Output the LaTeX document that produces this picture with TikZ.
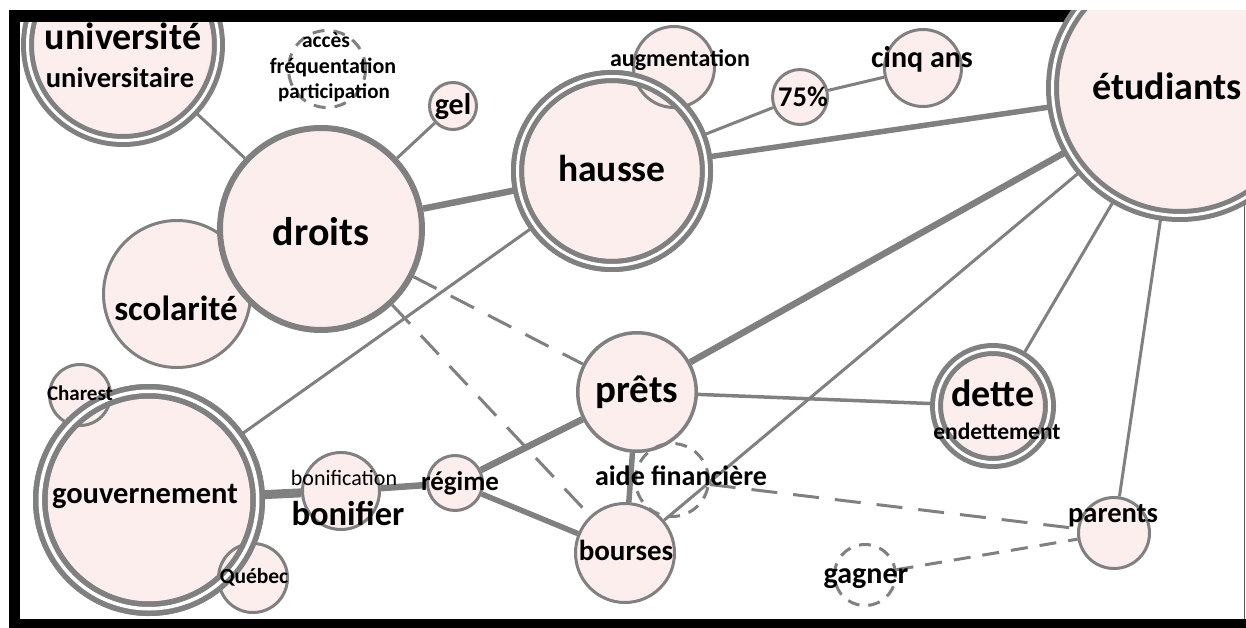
\documentclass[tikz,border=0pt]{standalone}
\usepackage{fontspec}
\setmainfont{Carlito}
\pgfdeclarelayer{background}
\pgfsetlayers{background,main}
\definecolor{ring}{RGB}{128,128,128}
\definecolor{bubble}{RGB}{253,238,238}
\definecolor{edgeline}{RGB}{90,90,90}
\newcommand\fsz[1]{\fontsize{#1}{#1}\selectfont\bfseries}
\newcommand\fszr[1]{\fontsize{#1}{#1}\selectfont}
\begin{document}
\begin{tikzpicture}[x=1pt,y=-1pt,
  bub/.style={circle, draw=ring, fill=bubble, line width=3pt, inner sep=0pt,
              minimum size={2*#1*1pt-3pt}},
  dbub/.style={circle, draw=ring, fill=bubble, line width=5pt, double=white,
               double distance=3pt, inner sep=0pt, minimum size={2*#1*1pt-13pt}},
  ghost/.style={circle, draw=ring, line width=3pt, dash pattern=on 12pt off 9pt,
                inner sep=0pt, minimum size={2*#1*1pt-3pt}},
  dring/.style={draw=ring, line width=5pt, double=white, double distance=3pt},
  lbl/.style={inner sep=0pt, anchor=base, text=black},
  lnA/.style={draw=ring, line width=3pt},
  lnB/.style={draw=ring, line width=3.5pt},
  lnC/.style={draw=ring, line width=5.5pt},
  lnD/.style={draw=ring, line width=6.5pt},
  lnE/.style={draw=ring, line width=9pt},
  dsh/.style={draw=ring, line width=3pt, dash pattern=on 26pt off 16pt},
  dshs/.style={draw=ring, line width=3pt, dash pattern=on 17pt off 12pt},
]
% page background
\begin{pgfonlayer}{background}
  \fill[white] (0,0) rectangle (1246,628);
\end{pgfonlayer}

% bubble partly hidden behind the frame
\node[dbub=102] (univ) at (123,45) {};

% frame: white margin and black bands
\fill[white] (0,0) rectangle (1246,10);
\fill[white] (0,0) rectangle (9,628);
\fill[black] (9,10) rectangle (1246,22);
\fill[black] (9,10) rectangle (20,628);
\fill[black] (9,619) rectangle (1246,628);
\draw[edgeline, line width=1pt] (1244.5,22) -- (1244.5,619);

% bubbles
\node[ghost=40] (acces) at (327,69) {};
\node[bub=25] (gel) at (453,106) {};
\node[dbub=101] (hausse) at (612,171) {};
\node[bub=42] (augm) at (674,67) {};
\draw[dring] (hausse.center) circle[radius=94.5pt];
\node[bub=29] (p75) at (800,97) {};
\node[bub=40] (cinq) at (923,68) {};
\node[dbub=134] (etud) at (1180,88) {};
\fill[white] (1000,0) rectangle (1246,10);
\node[bub=75] (scol) at (177,294) {};
\node[bub=104, line width=6pt, minimum size=202pt] (droits) at (321,229) {};
\node[dbub=116, line width=5.5pt, double distance=3.5pt, minimum size=217.5pt] (gouv) at (149,500) {};
\node[bub=32] (charest) at (80,395) {};
\node[bub=36] (quebec) at (253,578) {};
\draw[dring, line width=5.5pt, double distance=3.5pt] (gouv.center) circle[radius=108.75pt];
\node[bub=40] (bonif) at (341,491) {};
\node[bub=29] (regime) at (455,483) {};
\node[bub=61, line width=3.5pt, minimum size=118.5pt] (prets) at (637,392) {};
\node[bub=51] (bourses) at (625,553) {};
\node[ghost=38] (aide) at (672,480) {};
\node[dbub=63] (dette) at (993,406) {};
\node[bub=37] (parents) at (1114,533) {};
\node[ghost=32] (gagner) at (865,575) {};

% links
\begin{pgfonlayer}{background}
  \draw[lnA] (univ) -- (droits);
  \draw[lnA] (gel) -- (droits);
  \draw[lnD] (droits) -- (hausse);
  \draw[lnC] (hausse) -- (etud);
  \draw[lnA] (hausse) -- (p75);
  \draw[lnA] (p75) -- (cinq);
  \draw[lnA] (gouv) -- (hausse);
  \draw[dsh] (droits) -- (prets);
  \draw[dsh] (droits) -- (bourses);
  \draw[lnD] (prets) -- (etud);
  \draw[lnB] (prets) -- (dette);
  \draw[lnA] (bourses) -- (etud);
  \draw[lnA] (dette) -- (etud);
  \draw[lnA] (parents) -- (etud);
  \draw[lnE] (gouv) -- (bonif);
  \draw[lnD] (bonif) -- (regime);
  \draw[lnD] (regime) -- (prets);
  \draw[lnC] (regime) -- (bourses);
  \draw[lnC] (prets) -- (bourses);
  \draw[dsh] (aide) -- (parents);
  \draw[dshs] (gagner) -- (parents);
\end{pgfonlayer}

% words
\node[lbl, font=\fsz{38}] (t-univ) at (123,50) {université};
\node[lbl, font=\fsz{28.5}] (t-univ2) at (120,88) {universitaire};
\node[lbl, font=\fsz{21.5}] (t-acces) at (326,48) {accès};
\node[lbl, font=\fsz{22}] (t-freq) at (333,74) {fréquentation};
\node[lbl, font=\fsz{21}] (t-part) at (334,99) {participation};
\node[lbl, font=\fsz{30}] (t-gel) at (453,115) {gel};
\node[lbl, font=\fsz{24}] (t-augm) at (680,67) {augmentation};
\node[lbl, font=\fsz{37.5}] (t-hausse) at (612,182) {hausse};
\node[lbl, font=\fsz{28.5}] (t-p75) at (803,107) {75\%};
\node[lbl, font=\fsz{30}] (t-cinq) at (922,68) {cinq ans};
\node[lbl, font=\fsz{38}] (t-etud) at (1167,100) {étudiants};
\node[lbl, font=\fsz{40}] (t-droits) at (321,245) {droits};
\node[lbl, font=\fsz{35}] (t-scol) at (176,320) {scolarité};
\node[lbl, font=\fsz{21}] (t-charest) at (80,400) {Charest};
\node[lbl, font=\fsz{30.5}] (t-gouv) at (145,503) {gouvernement};
\node[lbl, font=\fsz{21.5}] (t-quebec) at (254,583) {Québec};
\node[lbl, font=\fszr{22}] (t-bonif1) at (344,485) {bonification};
\node[lbl, font=\fsz{34.5}] (t-bonif2) at (348,525) {bonifier};
\node[lbl, font=\fsz{27}] (t-regime) at (460,490) {régime};
\node[lbl, font=\fsz{39}] (t-prets) at (637,402) {prêts};
\node[lbl, font=\fsz{28}] (t-aide) at (681,485) {aide financière};
\node[lbl, font=\fsz{29}] (t-bourses) at (626,560) {bourses};
\node[lbl, font=\fsz{38}] (t-dette) at (993,406) {dette};
\node[lbl, font=\fsz{23.5}] (t-endet) at (997,439) {endettement};
\node[lbl, font=\fsz{28.5}] (t-parents) at (1113,522) {parents};
\node[lbl, font=\fsz{30}] (t-gagner) at (866,583) {gagner};

% fix the page to the frame size, whatever was drawn beyond it
\pgfresetboundingbox
\useasboundingbox (0,0) rectangle (1246,628);
\end{tikzpicture}
\end{document}
